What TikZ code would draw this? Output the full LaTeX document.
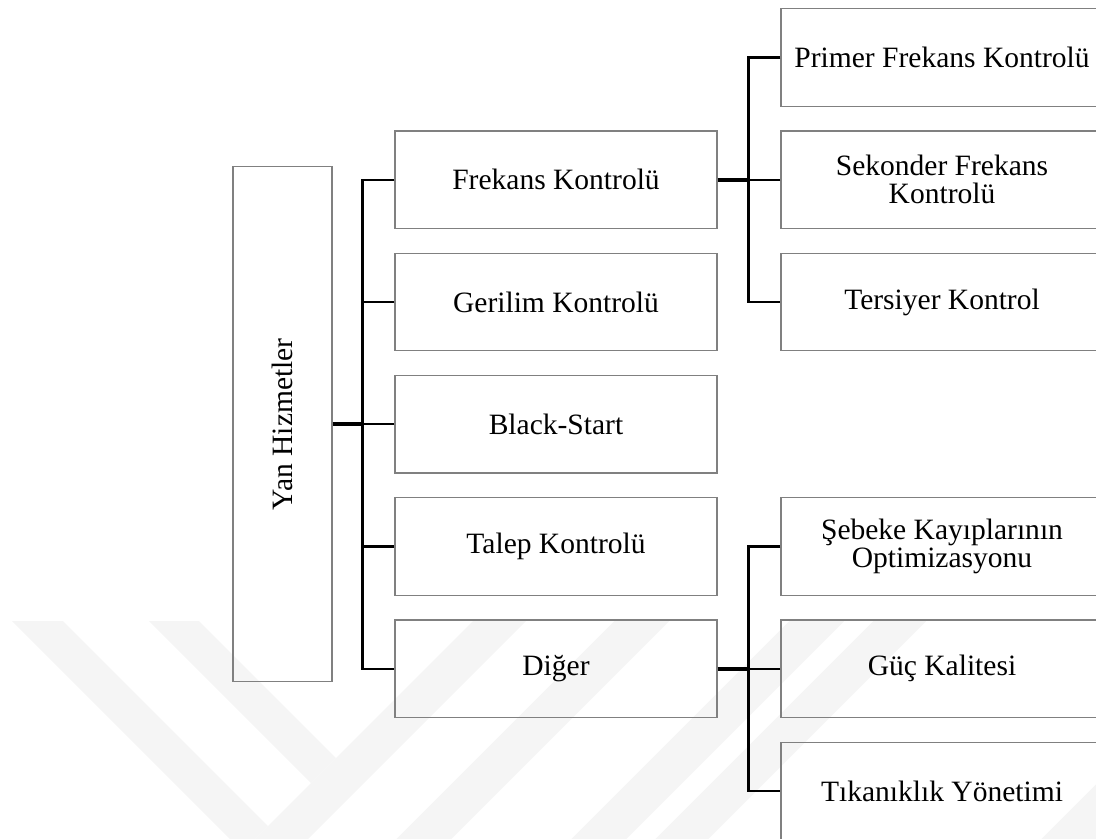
\documentclass[tikz,border=0pt]{standalone}
\usepackage{fontspec}
\setmainfont{Liberation Serif}
\usetikzlibrary{positioning}

\begin{document}
\begin{tikzpicture}[
        rootbox/.style={rectangle, draw=black!50, line width=0.6pt,
                        minimum width=1.98cm, minimum height=10.3cm, inner sep=0pt,
                        font=\fontsize{16.8}{16}\selectfont},
        mainbox/.style={rectangle, draw=black!50, line width=0.6pt,
                        minimum width=6.44cm, minimum height=1.95cm, align=center,
                        font=\fontsize{16.8}{16}\selectfont},
        subbox/.style={mainbox},
        myline/.style={line width=1.4pt, black},
        thickline/.style={line width=2.1pt, black},
        filigran/.style={fill=black!4, draw=none}
      ]
        \path[use as bounding box, clip] (0,0) rectangle (21.92,-16.78);

        % faint watermark bands
        \begin{scope}[x=0.02cm, y=-0.02cm]
          \clip (0,621) rectangle (1096,839);
          \fill[filigran] (12,621) -- (63,621) -- (268,826) -- (242.5,851.5) -- cycle;
          \fill[filigran] (149,621) -- (199,621) -- (336,758) -- (311,783) -- cycle;
          \foreach \a/\b in {1094/1147, 1235/1290, 1410/1465, 1494/1547, 1880/1935}
            \fill[filigran] (\a-621,621) -- (\b-621,621) -- (\b-900,900) -- (\a-900,900) -- cycle;
        \end{scope}

        \node[rootbox] (yan) at (5.65,-8.485) {\rotatebox{90}{Yan Hizmetler}};

        \node[mainbox] (frekans) at (11.12,-3.595) {Frekans Kontrolü};
        \node[mainbox] (gerilim) at (11.12,-6.04)  {Gerilim Kontrolü};
        \node[mainbox] (black)   at (11.12,-8.485) {Black-Start};
        \node[mainbox] (talep)   at (11.12,-10.93) {Talep Kontrolü};
        \node[mainbox] (diger)   at (11.12,-13.375) {Diğer};

        \node[subbox] (primer)     at (18.84,-1.15)  {Primer Frekans Kontrolü};
        \node[subbox] (sekonder)   at (18.84,-3.595) {Sekonder Frekans\\Kontrolü};
        \node[subbox] (tersiyer)   at (18.84,-6.04)  {Tersiyer Kontrol};
        \node[subbox] (sebeke)     at (18.84,-10.93) {Şebeke Kayıplarının\\Optimizasyonu};
        \node[subbox] (guc)        at (18.84,-13.375) {Güç Kalitesi};
        \node[subbox] (tikaniklik) at (18.84,-15.82) {Tıkanıklık Yönetimi};

        % left tree
        \draw[thickline] (yan.east) -- ++(0.62,0);
        \draw[myline] (frekans.west) -- ++(-0.64,0) |- (diger.west);
        \draw[myline] (gerilim.west) -- ++(-0.64,0);
        \draw[myline] (black.west)   -- ++(-0.64,0);
        \draw[myline] (talep.west)   -- ++(-0.64,0);

        % right trees
        \draw[thickline] (frekans.east) -- ++(0.64,0);
        \draw[myline] (primer.west) -- ++(-0.64,0) |- (tersiyer.west);
        \draw[myline] (sekonder.west) -- ++(-0.64,0);
        \draw[thickline] (diger.east) -- ++(0.64,0);
        \draw[myline] (sebeke.west) -- ++(-0.64,0) |- (tikaniklik.west);
        \draw[myline] (guc.west) -- ++(-0.64,0);
      \end{tikzpicture}
\end{document}
